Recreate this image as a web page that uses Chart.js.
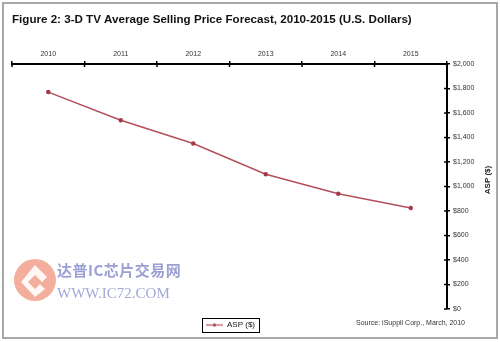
<!DOCTYPE html>
<html>
<head>
<meta charset="utf-8">
<script src="https://cdn.jsdelivr.net/npm/chart.js@4/dist/chart.umd.min.js"></script>
<style>
  html, body { margin: 0; padding: 0; background: #fff; }
  #wrap { position: relative; width: 500px; height: 342px; overflow: hidden; }
  #wrap canvas { position: absolute; left: 0; top: 0; }
  #frame { position: absolute; left: 2px; top: 2px; width: 492px; height: 333px; border: 2px solid #a8a8a8; pointer-events: none; }
  #wm { position: absolute; left: 14px; top: 257px; width: 170px; height: 48px; pointer-events: none; opacity: 0.85; }
  #wm svg { position: absolute; left: 0; top: 0; }
  #wm .cn { position: absolute; left: 43px; top: 5px; font: bold 15px "Noto Sans CJK SC", sans-serif; color: #8a8fcc; letter-spacing: 0.5px; white-space: nowrap; line-height: 16px; }
  #wm .en { position: absolute; left: 43px; top: 28px; font: 15px "Liberation Serif", serif; color: #9499d0; white-space: nowrap; line-height: 16px; }
</style>
</head>
<body>
<div id="wrap">
  <canvas id="chart" width="500" height="342"></canvas>
  <div id="wm">
    <svg width="46" height="46" viewBox="0 0 46 46">
      <circle cx="21" cy="23" r="21" fill="#f2a08c"/>
      <path d="M21 8 L33 20 L28 25 L21 18 L14 25 L21 32 L26 27 L31 32 L21 40 L7 25 Z" fill="#fff" opacity="0.9"/>
      <rect x="18" y="22" width="6" height="6" fill="#f2a08c" transform="rotate(45 21 25)"/>
    </svg>
    <div class="cn">达普IC芯片交易网</div>
    <div class="en">WWW.IC72.COM</div>
  </div>
  <div id="frame"></div>
</div>
<script>
// 데이터
const years = ['2010', '2011', '2012', '2013', '2014', '2015'];
const aspValues = [1770, 1540, 1350, 1100, 940, 825];
const yMin = 0, yMax = 2000, yStep = 200;

const chartTitle = 'Figure 2: 3-D TV Average Selling Price Forecast, 2010-2015 (U.S. Dollars)';
const seriesLabel = 'ASP ($)';
const yTitle = 'ASP ($)';
const sourceNote = 'Source: iSuppli Corp., March, 2010';

const lineColor = '#b4505c';
const pointColor = '#a33a4a';

Chart.defaults.font.family = 'Arial, "Liberation Sans", sans-serif';

// 범례 마커: 선 + 점
function makeLegendMarker() {
    const c = document.createElement('canvas');
    c.width = 17; c.height = 5;
    const g = c.getContext('2d');
    g.strokeStyle = lineColor;
    g.lineWidth = 1.2;
    g.beginPath(); g.moveTo(0, 2.5); g.lineTo(17, 2.5); g.stroke();
    g.fillStyle = pointColor;
    g.beginPath(); g.arc(8.5, 2.5, 1.6, 0, Math.PI * 2); g.fill();
    return c;
}
const legendMarker = makeLegendMarker();

const money = v => '$' + String(v).replace(/\B(?=(\d{3})+(?!\d))/g, ',');

// 축 눈금을 축선 양쪽으로, 범례 박스, 주석 텍스트
const extras = {
    id: 'extras',
    afterLayout(chart) {
        // 범례를 원본처럼 약간 왼쪽으로
        chart.legend.left -= 23;
        chart.legend.right -= 23;
    },
    afterDraw(chart) {
        const ctx = chart.ctx;
        const x = chart.scales.x, y = chart.scales.y;
        ctx.save();
        ctx.strokeStyle = '#000';
        ctx.lineWidth = 1.5;
        ctx.beginPath();
        for (let i = 0; i <= years.length; i++) {
            const px = x.getPixelForValue(i - 0.5);
            ctx.moveTo(px, x.bottom); ctx.lineTo(px, x.bottom + 3);
        }
        for (let v = yMin; v <= yMax; v += yStep) {
            const py = y.getPixelForValue(v);
            ctx.moveTo(y.left - 3, py); ctx.lineTo(y.left, py);
        }
        ctx.stroke();

        // 범례 테두리
        const hb = chart.legend.legendHitBoxes[0];
        if (hb) {
            ctx.lineWidth = 1;
            ctx.strokeRect(Math.round(hb.left - 4) + 0.5, Math.round(hb.top - 3) + 0.5, Math.round(hb.width + 8), Math.round(hb.height + 6));
        }

        // 축 제목 (아래에서 위로)
        ctx.fillStyle = '#222';
        ctx.font = 'bold 8px Arial, "Liberation Sans", sans-serif';
        ctx.translate(488, 180);
        ctx.rotate(-Math.PI / 2);
        ctx.textAlign = 'center';
        ctx.textBaseline = 'middle';
        ctx.fillText(yTitle, 0, 0);
        ctx.setTransform(1, 0, 0, 1, 0, 0);

        // 출처
        ctx.font = '7px Arial, "Liberation Sans", sans-serif';
        ctx.fillStyle = '#333';
        ctx.textAlign = 'right';
        ctx.fillText(sourceNote, 465, 323);
        ctx.restore();
    }
};

new Chart(document.getElementById('chart'), {
    type: 'line',
    data: {
        labels: years,
        datasets: [{
            label: seriesLabel,
            data: aspValues,
            borderColor: lineColor,
            borderWidth: 1.5,
            backgroundColor: pointColor,
            pointBackgroundColor: pointColor,
            pointBorderColor: pointColor,
            pointRadius: 1.5,
            pointStyle: 'circle',
            tension: 0
        }]
    },
    options: {
        responsive: false,
        animation: false,
        events: [],
        layout: { padding: { left: 12, right: 5, top: 0, bottom: 3 } },
        plugins: {
            title: {
                display: true,
                text: chartTitle,
                align: 'start',
                color: '#111',
                font: { size: 11.6, weight: 'bold' },
                padding: { top: 13, bottom: 19 }
            },
            legend: {
                position: 'bottom',
                labels: {
                    color: '#111',
                    font: { size: 8 },
                    padding: 12,
                    usePointStyle: true,
                    pointStyleWidth: 17,
                    generateLabels(chart) {
                        const items = Chart.defaults.plugins.legend.labels.generateLabels(chart);
                        items.forEach(it => { it.pointStyle = legendMarker; });
                        return items;
                    }
                }
            },
            tooltip: { enabled: false }
        },
        scales: {
            x: {
                position: 'top',
                offset: true,
                grid: { offset: true, drawOnChartArea: false, color: '#000', lineWidth: 1.5, tickLength: 3 },
                border: { color: '#000', width: 2 },
                ticks: { color: '#333', font: { size: 7 }, padding: 3, maxRotation: 0, autoSkip: false },
                afterFit(scale) { scale.height = 18; }
            },
            y: {
                position: 'right',
                min: yMin,
                max: yMax,
                grid: { drawOnChartArea: false, color: '#000', lineWidth: 1.5, tickLength: 3 },
                border: { color: '#000', width: 2 },
                ticks: { stepSize: yStep, color: '#333', font: { size: 7 }, padding: 3, callback: v => money(v) },
                afterFit(scale) { scale.width = 48; }
            }
        }
    },
    plugins: [extras]
});
</script>
</body>
</html>
